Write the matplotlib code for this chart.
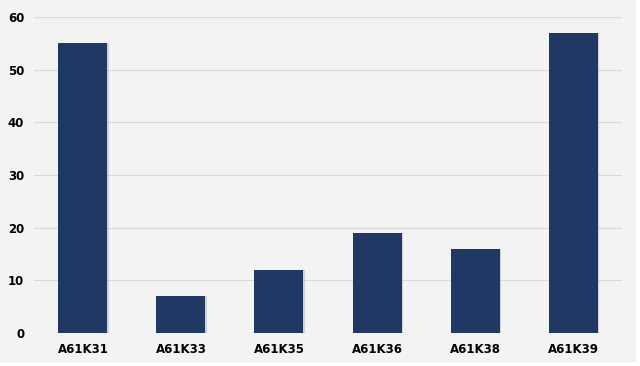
import matplotlib.pyplot as plt
from matplotlib.patches import Rectangle

categories = ["A61K31", "A61K33", "A61K35", "A61K36", "A61K38", "A61K39"]
counts = [55, 7, 12, 19, 16, 57]
yticks = [0, 10, 20, 30, 40, 50, 60]

bg = "#f3f3f3"
bar_color = "#1f3864"

fig = plt.figure(figsize=(6.4, 3.66), dpi=100, facecolor="white")
# grey chart area with a thin white margin on the right/bottom
fig.patches.append(Rectangle((0, 0.008), 0.994, 0.992, transform=fig.transFigure,
                             facecolor=bg, edgecolor="none", zorder=-10))

ax = fig.add_axes([0.053, 0.090, 0.919, 0.864])
ax.set_facecolor(bg)

x = range(len(categories))
# faint shadow behind bars
ax.bar([i + 0.012 for i in x], counts, width=0.5, color="#8a93a8", alpha=0.35, zorder=2)
ax.bar(x, counts, width=0.5, color=bar_color, zorder=3)

ax.set_ylim(0, 60)
ax.set_xlim(-0.5, len(categories) - 0.5)
ax.set_yticks(yticks)
ax.set_xticks(list(x))
ax.set_xticklabels(categories)
ax.yaxis.grid(True, color="#d9d9d9", linewidth=0.8, zorder=0)
ax.axhline(0, color="#d9d9d9", linewidth=0.8, zorder=1)

for s in ax.spines.values():
    s.set_visible(False)
ax.tick_params(axis="both", length=0, labelsize=8.5, colors="black")
ax.tick_params(axis="x", pad=7)
ax.tick_params(axis="y", pad=7)
for lbl in ax.get_xticklabels() + ax.get_yticklabels():
    lbl.set_fontweight("bold")

fig.savefig("out.png", dpi=100, facecolor=fig.get_facecolor())
